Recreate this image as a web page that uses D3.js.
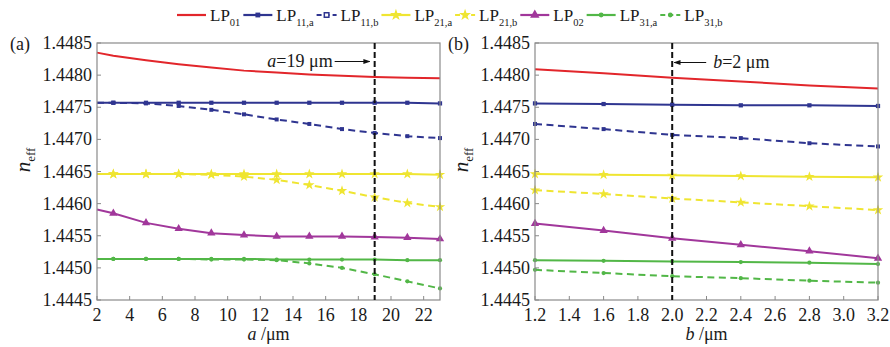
<!DOCTYPE html>
<html>
<head>
<meta charset="utf-8">
<script src="https://cdn.jsdelivr.net/npm/d3@7"></script>
<style>
  body { margin: 0; background: #fff; }
  svg, text { font-family: "Liberation Serif", "Times New Roman", Times, "DejaVu Serif", serif; }
  text { fill: #1a1a1a; }
</style>
</head>
<body>
<div id="chart"></div>
<script>
// valores
const aX = [2, 3, 5, 7, 9, 11, 13, 15, 17, 19, 21, 23];
const bX = [1.2, 1.6, 2.0, 2.4, 2.8, 3.2];

const aLP01 = [1.44835, 1.44830, 1.44823, 1.44817, 1.44812, 1.44807, 1.44804, 1.44801, 1.44799, 1.44797, 1.44796, 1.44795];
const aLP11a = [1.44757, 1.44757, 1.44757, 1.44757, 1.44757, 1.44757, 1.44757, 1.44757, 1.44757, 1.44757, 1.44757, 1.44756];
const aLP11b = [1.44757, 1.44757, 1.44756, 1.44752, 1.44746, 1.44739, 1.44731, 1.44724, 1.44716, 1.44710, 1.44705, 1.44702];
const aLP21a = [1.44646, 1.44646, 1.44646, 1.44646, 1.44646, 1.44646, 1.44646, 1.44646, 1.44646, 1.44646, 1.44646, 1.44645];
const aLP21b = [1.44646, 1.44646, 1.44646, 1.44646, 1.44645, 1.44642, 1.44637, 1.44629, 1.44620, 1.44610, 1.44601, 1.44595];
const aLP02 = [1.44591, 1.44585, 1.44570, 1.44561, 1.44554, 1.44551, 1.44549, 1.44549, 1.44549, 1.44548, 1.44547, 1.44545];
const aLP31a = [1.44514, 1.44514, 1.44514, 1.44514, 1.44514, 1.44514, 1.44513, 1.44513, 1.44513, 1.44513, 1.44512, 1.44512];
const aLP31b = [1.44514, 1.44514, 1.44514, 1.44514, 1.44513, 1.44513, 1.44512, 1.44507, 1.44500, 1.44490, 1.44479, 1.44468];

const bLP01 = [1.44809, 1.44803, 1.44796, 1.44790, 1.44784, 1.44779];
const bLP11a = [1.44756, 1.44755, 1.44754, 1.44753, 1.44753, 1.44752];
const bLP11b = [1.44724, 1.44716, 1.44707, 1.44702, 1.44694, 1.44689];
const bLP21a = [1.44646, 1.44645, 1.44644, 1.44643, 1.44642, 1.44641];
const bLP21b = [1.44621, 1.44615, 1.44608, 1.44602, 1.44596, 1.44590];
const bLP02 = [1.44569, 1.44558, 1.44546, 1.44536, 1.44526, 1.44515];
const bLP31a = [1.44512, 1.44511, 1.44510, 1.44509, 1.44508, 1.44506];
const bLP31b = [1.44497, 1.44492, 1.44487, 1.44484, 1.44480, 1.44477];

const modeNames = [["LP", "01"], ["LP", "11,a"], ["LP", "11,b"], ["LP", "21,a"], ["LP", "21,b"], ["LP", "02"], ["LP", "31,a"], ["LP", "31,b"]];
const yTicks = [1.4445, 1.4450, 1.4455, 1.4460, 1.4465, 1.4470, 1.4475, 1.4480, 1.4485];
const aTicks = [2, 4, 6, 8, 10, 12, 14, 16, 18, 20, 22];
const bTicks = [1.2, 1.4, 1.6, 1.8, 2.0, 2.2, 2.4, 2.6, 2.8, 3.0, 3.2];

// estilo de cada modo (cor, tracejado, marcador)
const styles = [
  { color: "#e2262b", dash: false, symbol: null },
  { color: "#2f3590", dash: false, symbol: d3.symbolSquare, size: 18 },
  { color: "#2f3590", dash: true, symbol: d3.symbolSquare, size: 16 },
  { color: "#efe531", dash: false, symbol: d3.symbolStar, size: 34 },
  { color: "#efe531", dash: true, symbol: d3.symbolStar, size: 34 },
  { color: "#a1379b", dash: false, symbol: d3.symbolTriangle, size: 30 },
  { color: "#52b747", dash: false, symbol: d3.symbolCircle, size: 14 },
  { color: "#52b747", dash: true, symbol: d3.symbolCircle, size: 14 },
];

const FONT = '"Liberation Serif", "Times New Roman", Times, "DejaVu Serif", serif';
const width = 890, height = 347;
const svg = d3.select("#chart").append("svg")
  .attr("width", width).attr("height", height)
  .attr("font-family", FONT);

const y = d3.scaleLinear().domain([1.4445, 1.4485]).range([300, 43]);

const panels = [
  { tag: "(a)", xs: aX, series: [aLP01, aLP11a, aLP11b, aLP21a, aLP21b, aLP02, aLP31a, aLP31b],
    range: [97, 440], domain: [2, 23], ticks: aTicks, fmt: d3.format("d"), var: "a",
    mark: 19, markFrom: 1, note: "=19 μm", noteSide: "left" },
  { tag: "(b)", xs: bX, series: [bLP01, bLP11a, bLP11b, bLP21a, bLP21b, bLP02, bLP31a, bLP31b],
    range: [535, 878], domain: [1.2, 3.2], ticks: bTicks, fmt: d3.format(".1f"), var: "b",
    mark: 2.0, markFrom: 0, note: "=2 μm", noteSide: "right" },
];

svg.append("defs").append("marker")
  .attr("id", "arrow").attr("viewBox", "0 0 10 10")
  .attr("refX", 9).attr("refY", 5)
  .attr("markerWidth", 7).attr("markerHeight", 7)
  .attr("markerUnits", "userSpaceOnUse")
  .attr("orient", "auto")
  .append("path").attr("d", "M0,1.5L10,5L0,8.5Z").attr("fill", "#111");

panels.forEach(function (p) {
  const x = d3.scaleLinear().domain(p.domain).range(p.range);
  const g = svg.append("g");
  const [x0, x1] = p.range;

  // linhas das séries
  p.series.forEach(function (vals, i) {
    const st = styles[i];
    const pts = p.xs.map((v, k) => [v, vals[k]]);
    g.append("path")
      .attr("d", d3.line().x(d => x(d[0])).y(d => y(d[1]))(pts))
      .attr("fill", "none")
      .attr("stroke", st.color)
      .attr("stroke-width", 2)
      .attr("stroke-dasharray", st.dash ? "7,4.5" : null);
    if (st.symbol) {
      g.selectAll(null).data(pts.slice(p.markFrom)).enter().append("path")
        .attr("d", d3.symbol().type(st.symbol).size(st.size))
        .attr("transform", d => `translate(${x(d[0])},${y(d[1])})`)
        .attr("fill", st.color);
    }
  });

  // caixa
  g.append("rect").attr("x", x0).attr("y", 43).attr("width", x1 - x0).attr("height", 257)
    .attr("fill", "none").attr("stroke", "#8a8a8a").attr("stroke-width", 1.2);

  // ticks do eixo y
  yTicks.forEach(function (t) {
    g.append("line").attr("x1", x0).attr("x2", x0 + 4).attr("y1", y(t)).attr("y2", y(t))
      .attr("stroke", "#8a8a8a");
    g.append("text").attr("x", x0 - 5).attr("y", y(t)).attr("dy", "0.34em")
      .attr("text-anchor", "end").attr("font-size", 18).text(d3.format(".4f")(t));
  });

  // ticks do eixo x
  p.ticks.forEach(function (t) {
    g.append("line").attr("x1", x(t)).attr("x2", x(t)).attr("y1", 300).attr("y2", 296)
      .attr("stroke", "#8a8a8a");
    g.append("text").attr("x", x(t)).attr("y", 321)
      .attr("text-anchor", "middle").attr("font-size", 18).text(p.fmt(t));
  });

  // rótulo do eixo x
  const xl = g.append("text").attr("x", (x0 + x1) / 2).attr("y", 340)
    .attr("text-anchor", "middle").attr("font-size", 18);
  xl.append("tspan").attr("font-style", "italic").text(p.var);
  xl.append("tspan").text(" /μm");

  // rótulo do eixo y
  const yl = g.append("text")
    .attr("transform", `translate(${x0 - 67},160) rotate(-90)`)
    .attr("text-anchor", "middle").attr("font-size", 21);
  yl.append("tspan").attr("font-style", "italic").text("n");
  yl.append("tspan").attr("font-size", 13).attr("dy", 5).text("eff");

  // painel
  g.append("text").attr("x", x0 - 87).attr("y", 50).attr("font-size", 18).text(p.tag);

  // linha vertical tracejada
  g.append("line").attr("x1", x(p.mark)).attr("x2", x(p.mark)).attr("y1", 43).attr("y2", 300)
    .attr("stroke", "#111").attr("stroke-width", 2).attr("stroke-dasharray", "6,3");

  // anotação
  const xm = x(p.mark);
  if (p.noteSide === "left") {
    const t = g.append("text").attr("x", xm - 42).attr("y", 67)
      .attr("text-anchor", "end").attr("font-size", 18);
    t.append("tspan").attr("font-style", "italic").text(p.var);
    t.append("tspan").text(p.note);
    g.append("line").attr("x1", xm - 40).attr("x2", xm - 5).attr("y1", 61.5).attr("y2", 61.5)
      .attr("stroke", "#111").attr("stroke-width", 1).attr("marker-end", "url(#arrow)");
  } else {
    const t = g.append("text").attr("x", xm + 41).attr("y", 68).attr("font-size", 18);
    t.append("tspan").attr("font-style", "italic").text(p.var);
    t.append("tspan").text(p.note);
    g.append("line").attr("x1", xm + 34).attr("x2", xm + 2).attr("y1", 62.5).attr("y2", 62.5)
      .attr("stroke", "#111").attr("stroke-width", 1).attr("marker-end", "url(#arrow)");
  }
});

// legenda
let lx = 177;
const ly = 15;
modeNames.forEach(function (nm, i) {
  const st = styles[i];
  const len = st.dash ? 20 : 29;
  const lg = svg.append("g");
  lg.append("line").attr("x1", lx).attr("x2", lx + len).attr("y1", ly).attr("y2", ly)
    .attr("stroke", st.color).attr("stroke-width", 2.2)
    .attr("stroke-dasharray", st.dash ? "5,3" : null);
  if (st.symbol) {
    lg.append("path").attr("d", d3.symbol().type(st.symbol).size(st.size * 1.3))
      .attr("transform", `translate(${lx + len / 2},${ly})`)
      .attr("fill", i === 2 ? "#fff" : st.color)
      .attr("stroke", i === 2 ? st.color : null).attr("stroke-width", 1.5);
  }
  lx += len + 4;
  const t = lg.append("text").attr("x", lx).attr("y", ly + 6).attr("font-size", 17);
  t.append("tspan").text(nm[0]);
  t.append("tspan").attr("font-size", 10.5).attr("dy", 5).text(nm[1]);
  lx += t.node().getComputedTextLength() + 3;
});
</script>
</body>
</html>
